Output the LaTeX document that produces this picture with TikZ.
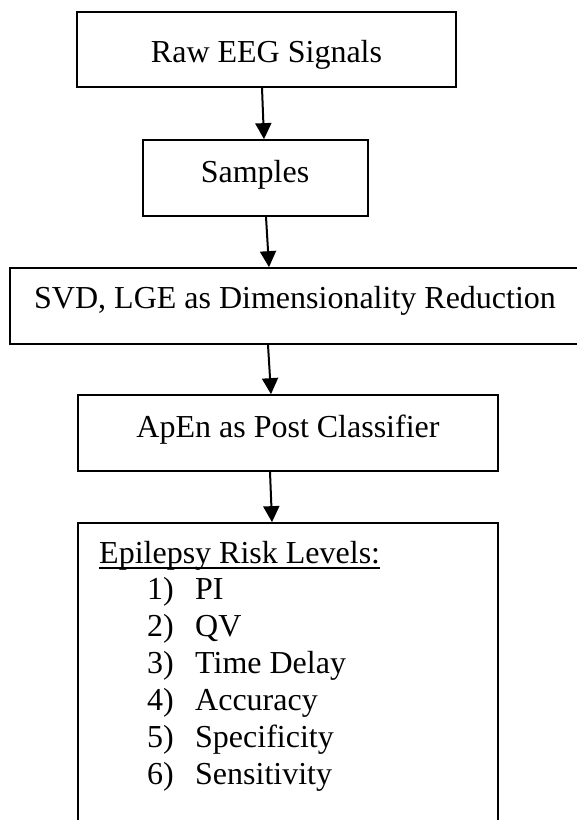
\documentclass[tikz,border=0pt]{standalone}
\usepackage{fontspec}
\setmainfont{Liberation Serif}
\usetikzlibrary{arrows.meta}
\begin{document}
\begin{tikzpicture}[x=1pt,y=-1pt,
  box/.style={draw=black, line width=1.7pt, rectangle, inner sep=0pt},
  lbl/.style={inner sep=0pt, font=\fontsize{32}{36.8}\selectfont, anchor=base west},
  flow/.style={draw=black, line width=2pt, -{Triangle[length=16pt,width=16pt]}}]
  \useasboundingbox (0,0) rectangle (577,820);
  \clip (0,0) rectangle (577,820);

  % process boxes
  \node[box, minimum width=379pt, minimum height=75pt] (raw)  at (266.5,49.5) {};
  \node[box, minimum width=225pt, minimum height=76pt] (samp) at (255.5,178) {};
  \node[box, minimum width=580pt, minimum height=76pt] (svd)  at (300,306) {};
  \node[box, minimum width=420pt, minimum height=76pt] (apen) at (288,433) {};
  \node[box, minimum width=420pt, minimum height=320pt] (risk) at (288,683) {};

  % box texts
  \node[lbl, anchor=base] (traw)  at (266.5,62) {Raw EEG Signals};
  \node[lbl, anchor=base] (tsamp) at (255,182) {Samples};
  \node[lbl] (tsvd)  at (34,308) {SVD, LGE as Dimensionality Reduction};
  \node[lbl, anchor=base] (tapen) at (288,437) {ApEn as Post Classifier};

  % risk level list
  \node[lbl] (thead) at (99,563) {Epilepsy Risk Levels:};
  \draw[line width=1.3pt] ([yshift=-5pt]thead.base west) -- ([yshift=-5pt]thead.base east);
  \foreach \n/\t/\y in {1/PI/599, 2/QV/636, 3/Time Delay/673, 4/Accuracy/710,
                        5/Specificity/747, 6/Sensitivity/784} {
    \node[lbl] (num\n) at (147,\y) {\n)};
    \node[lbl] (item\n) at (195,\y) {\t};
  }

  % connectors
  \draw[flow] ([xshift=-4.5pt]raw.south) -- ([xshift=8.5pt]samp.north);
  \draw[flow] ([xshift=10.5pt]samp.south) -- ([xshift=-31pt]svd.north);
  \draw[flow] ([xshift=-32pt]svd.south) -- ([xshift=-17pt]apen.north);
  \draw[flow] ([xshift=-18pt]apen.south) -- ([xshift=-16pt]risk.north);
\end{tikzpicture}
\end{document}
